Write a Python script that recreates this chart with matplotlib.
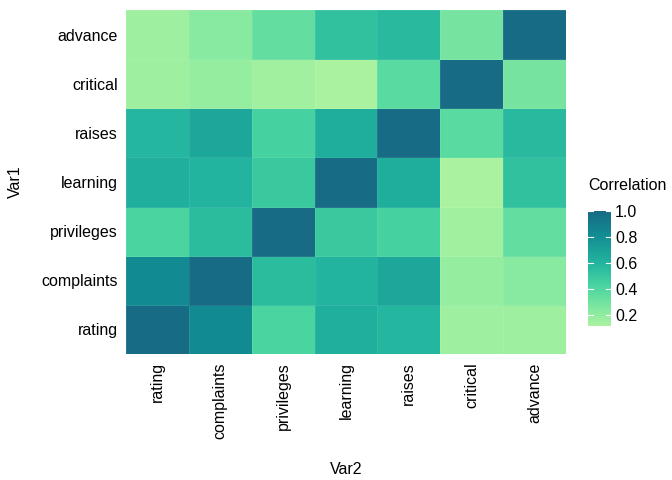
import numpy as np
import matplotlib
matplotlib.use("Agg")
import matplotlib.pyplot as plt
from matplotlib.colors import LinearSegmentedColormap, Normalize
from matplotlib.colorbar import ColorbarBase

plt.rcParams["font.family"] = ["Liberation Sans", "DejaVu Sans"]

# variables del conjunto "attitude"
variables = ["rating", "complaints", "privileges", "learning", "raises", "critical", "advance"]

# matriz de correlacion (filas = Var1, columnas = Var2)
corr = [
    [1.0000, 0.8254, 0.4261, 0.6237, 0.5901, 0.1564, 0.1551],
    [0.8254, 1.0000, 0.5583, 0.5967, 0.6692, 0.1877, 0.2246],
    [0.4261, 0.5583, 1.0000, 0.4933, 0.4455, 0.1472, 0.3433],
    [0.6237, 0.5967, 0.4933, 1.0000, 0.6403, 0.1160, 0.5316],
    [0.5901, 0.6692, 0.4455, 0.6403, 1.0000, 0.3769, 0.5742],
    [0.1564, 0.1877, 0.1472, 0.1160, 0.3769, 1.0000, 0.2833],
    [0.1551, 0.2246, 0.3433, 0.5316, 0.5742, 0.2833, 1.0000],
]
cbar_ticks = [0.2, 0.4, 0.6, 0.8, 1.0]

mat = np.array(corr)
vmin, vmax = mat.min(), mat.max()

def pos(v):
    return (v - vmin) / (vmax - vmin)

cmap = LinearSegmentedColormap.from_list("corr", [
    (0.0, "#abf2a0"),
    (pos(0.225), "#88eaa0"),
    (pos(0.43), "#48d4a0"),
    (pos(0.6), "#22b49e"),
    (pos(0.826), "#128a92"),
    (1.0, "#176b85"),
])
norm = Normalize(vmin=vmin, vmax=vmax)

fig = plt.figure(figsize=(6.72, 4.8), dpi=100)
ax = fig.add_axes([0.1875, 0.2625, 0.6547, 0.7165])

n = len(variables)
ax.pcolormesh(np.arange(n + 1), np.arange(n + 1), mat, cmap=cmap, norm=norm,
              edgecolor=(1, 1, 1, 0.08), linewidth=0.5)
ax.set_xlim(0, n)
ax.set_ylim(0, n)
ax.set_xticks(np.arange(n) + 0.5)
ax.set_yticks(np.arange(n) + 0.5)
ax.set_xticklabels(variables, rotation=90, fontsize=11.5)
ax.set_yticklabels(variables, fontsize=11.5)
ax.tick_params(length=0, pad=6)
for s in ax.spines.values():
    s.set_visible(False)
ax.set_xlabel("Var2", fontsize=11.5, labelpad=17)
ax.set_ylabel("Var1", fontsize=11.5, labelpad=13)

# barra de color
cax = fig.add_axes([588 / 672, 1 - 326 / 480, 23 / 672, 115 / 480])
cb = ColorbarBase(cax, cmap=cmap, norm=norm, ticks=cbar_ticks)
cb.outline.set_visible(False)
cb.ax.set_yticklabels(["%.1f" % t for t in cbar_ticks], fontsize=11.5)
cb.ax.tick_params(length=0, pad=3)
for t in cbar_ticks:
    cax.plot([0, 0.2], [t, t], color="white", lw=0.8)
    cax.plot([0.8, 1], [t, t], color="white", lw=0.8)
fig.text(588 / 672, 1 - 186 / 480, "Correlation", fontsize=11.5, va="center", ha="left")

fig.savefig("out.png", dpi=100)
